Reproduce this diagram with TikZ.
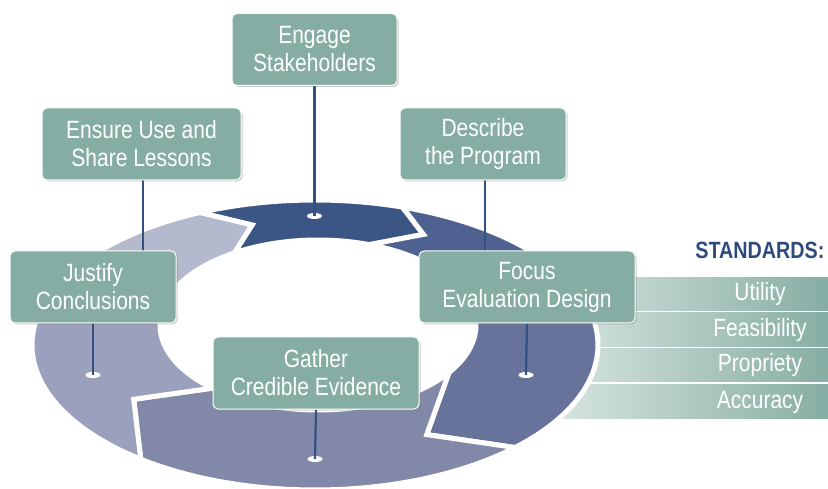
\documentclass[tikz,border=0pt]{standalone}
\usepackage{fontspec}
\setmainfont{Liberation Sans}[FakeStretch=0.84]
\usetikzlibrary{backgrounds,shadows,shapes.geometric}
\definecolor{boxteal}{HTML}{86ADA3}
\definecolor{barlight}{HTML}{DCE8E4}
\definecolor{pinline}{HTML}{34507F}
\definecolor{stdnavy}{HTML}{2D4A7C}
\definecolor{segengage}{HTML}{3B5584}
\definecolor{segdescribe}{HTML}{4F6191}
\definecolor{segfocus}{HTML}{68739B}
\definecolor{seggather}{HTML}{8188A8}
\definecolor{segjustify}{HTML}{9BA1BD}
\definecolor{segensure}{HTML}{B4B9CE}

% one chevron piece of the ring: outer, tip, inner angle at start and at end
\newcommand{\ringpart}[7]{%
	\fill[#7,draw=white,line width=5pt]
		plot[domain=#1:#4,samples=40] ({315+283*cos(\x)},{345+145*sin(\x)})
		-- ({316.5+220.5*cos(#5)},{335+115*sin(#5)})
		-- plot[domain=#6:#3,samples=40] ({318+158*cos(\x)},{325+85*sin(\x)})
		-- ({316.5+220.5*cos(#2)},{335+115*sin(#2)}) -- cycle;}

\begin{document}
\begin{tikzpicture}[x=1pt,y=-1pt,
		stepbox/.style={rectangle,rounded corners=5pt,fill=boxteal,draw=white,line width=1pt,text=white,align=center,minimum height=72pt,inner sep=0pt,font=\fontsize{25}{28}\selectfont,drop shadow={shadow xshift=1.5pt,shadow yshift=-1.5pt,opacity=.4}},
		pindot/.style={ellipse,fill=white,minimum width=15pt,minimum height=6pt,inner sep=0pt},
		pin/.style={pinline,line width=2.2pt},
		stdbar/.style={rectangle,left color=barlight,right color=boxteal,draw=white,line width=1.2pt,minimum width=290pt,minimum height=35.5pt,inner sep=0pt},
		stdlabel/.style={text=white,font=\fontsize{25}{28}\selectfont}]
		\useasboundingbox (0,0) rectangle (828,489);
		%
		% steps
		\node[stepbox,minimum width=165pt] (engage) at (314.5,49.5) {Engage\\Stakeholders};
		\node[stepbox,minimum width=199pt] (ensure) at (141.5,144) {Ensure Use and\\Share Lessons};
		\node[stepbox,minimum width=166pt] (describe) at (483,144) {Describe\\the Program};
		\node[stepbox,minimum width=166pt] (justify) at (93,287) {Justify\\Conclusions};
		\node[stepbox,minimum width=216pt] (focus) at (527,287) {Focus\\Evaluation Design};
		\node[stepbox,minimum width=206pt] (gather) at (316,373) {Gather\\Credible Evidence};
		%
		% standards
		\node[anchor=east,text=stdnavy,font=\fontsize{23.5}{28}\selectfont\bfseries] (standards) at (828,250) {STANDARDS:};
		\node[stdlabel] (utility) at (760,294) {Utility};
		\node[stdlabel] (feasibility) at (760,330) {Feasibility};
		\node[stdlabel] (propriety) at (760,365.5) {Propriety};
		\node[stdlabel] (accuracy) at (760,402) {Accuracy};
		%
		\begin{scope}[on background layer]
			\node[stdbar] (utilbar) at (685,294) {};
			\node[stdbar] (feasbar) at (685,329.5) {};
			\node[stdbar] (propbar) at (685,365) {};
			\node[stdbar] (accubar) at (685,401.5) {};
			%
			% ring
			\ringpart{246}{253}{238}{288}{299}{289}{segengage}
			\ringpart{288}{299}{289}{335}{345}{335}{segdescribe}
			\ringpart{335}{345}{335}{405}{420}{394}{segfocus}
			\ringpart{405}{420}{394}{488}{506}{492}{seggather}
			\ringpart{488}{506}{492}{560}{573}{560}{segjustify}
			\ringpart{560}{573}{560}{606}{613}{598}{segensure}
			%
			% pins
			\node[pindot] (engdot) at (314.5,216) {};
			\node[pindot] (jusdot) at (93,375) {};
			\node[pindot] (foodot) at (526,375) {};
			\node[pindot] (gatdot) at (315,459) {};
			\coordinate (enspin) at (143,280);
			\coordinate (despin) at (485,280);
			\draw[pin] (engage.south) -- (engdot.center);
			\draw[pin] (justify.south) -- (jusdot.center);
			\draw[pin] (focus.south) -- (foodot.center);
			\draw[pin] (gather.south) -- (gatdot.center);
			\draw[pin] (ensure.south -| enspin) -- (enspin);
			\draw[pin] (describe.south -| despin) -- (despin);
		\end{scope}
	\end{tikzpicture}
\end{document}
